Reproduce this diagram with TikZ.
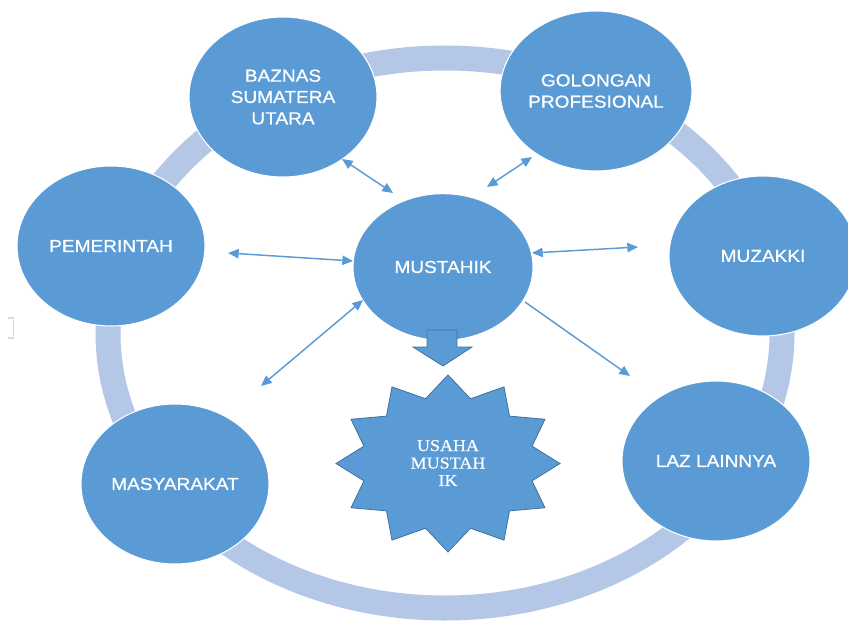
\documentclass[tikz,border=0pt]{standalone}
\usepackage{fontspec}
\setmainfont{Liberation Serif}
\newfontfamily\circfont[FakeStretch=1.1,FakeBold=0.6]{Liberation Sans}
\newfontfamily\starfont[FakeStretch=1.08,FakeBold=0.3]{Liberation Serif}
\usetikzlibrary{shapes.geometric,arrows.meta}
\definecolor{cfill}{HTML}{5B9BD5}
\definecolor{cedge}{HTML}{41719C}
\definecolor{ringc}{HTML}{B4C7E7}
\definecolor{brk}{HTML}{D9D9D9}
\tikzset{
  bubble/.style={ellipse, fill=cfill, draw=white, line width=0.8pt, inner sep=0pt,
    minimum width=141pt, minimum height=120pt, text=white, align=center,
    font=\circfont\fontsize{13pt}{16pt}\selectfont},
  hub/.style={bubble, minimum width=135pt, minimum height=110pt},
  ringline/.style={draw=ringc, line width=18.75pt},
  link/.style={draw=cfill, line width=1.1pt, {Triangle[length=8pt,width=7pt]}-{Triangle[length=8pt,width=7pt]}},
  onelink/.style={draw=cfill, line width=1.1pt, -{Triangle[length=8pt,width=7pt]}},
  starsty/.style={fill=cfill, draw=cedge, line width=0.6pt, line join=miter},
  blockarrow/.style={fill=cfill, draw=cedge, line width=0.6pt},
  startext/.style={text=white, align=center, inner sep=0pt,
    font=\starfont\fontsize{12.5pt}{13.1pt}\selectfont},
  bracket/.style={draw=brk, line width=1.2pt}
}
\begin{document}
\begin{tikzpicture}[x=0.75pt, y=-0.75pt]
\useasboundingbox (0,0) rectangle (848,620);
% ring
\draw[ringline] (445,333) ellipse [x radius=337, y radius=275];
% stray bracket
\draw[bracket] (8,318) -- (13.5,318) -- (13.5,338) -- (8,338);
% outer bubbles
\node[bubble] (baz) at (283,97) {BAZNAS\\SUMATERA\\UTARA};
\node[bubble] (gol) at (596,91) {GOLONGAN\\PROFESIONAL};
\node[bubble] (pem) at (111,246) {PEMERINTAH};
\node[bubble] (muz) at (763,256) {MUZAKKI};
\node[bubble] (mas) at (175,484) {MASYARAKAT};
\node[bubble] (laz) at (716,461) {LAZ LAINNYA};
% hub
\node[hub] (mus) at (443,267) {MUSTAHIK};
% block arrow
\draw[blockarrow] (427,330) -- (457,330) -- (457,347) -- (472,347) -- (443,366)
  -- (413,347) -- (427,347) -- cycle;
% star
\begin{scope}[shift={(448,463.5)}]
\draw[starsty] (0:112 and 88.5)
  \foreach \a in {15,45,...,345} { -- (\a:87 and 67) -- ({\a+15}:112 and 88.5) } -- cycle;
\end{scope}
\node[startext] (usaha) at (448,463) {USAHA\\MUSTAH\\IK};
% connector end points
\coordinate (b1) at (342,159); \coordinate (b2) at (393,193);
\coordinate (g1) at (532,157); \coordinate (g2) at (487,187);
\coordinate (p1) at (228,253); \coordinate (p2) at (353,261);
\coordinate (z1) at (532,253); \coordinate (z2) at (638,247);
\coordinate (m1) at (363,300); \coordinate (m2) at (261,386);
\coordinate (l1) at (525,302); \coordinate (l2) at (630,376);
\draw[link] (b1) -- (b2);
\draw[link] (g1) -- (g2);
\draw[link] (p1) -- (p2);
\draw[link] (z1) -- (z2);
\draw[link] (m1) -- (m2);
\draw[onelink] (l1) -- (l2);
\end{tikzpicture}
\end{document}
